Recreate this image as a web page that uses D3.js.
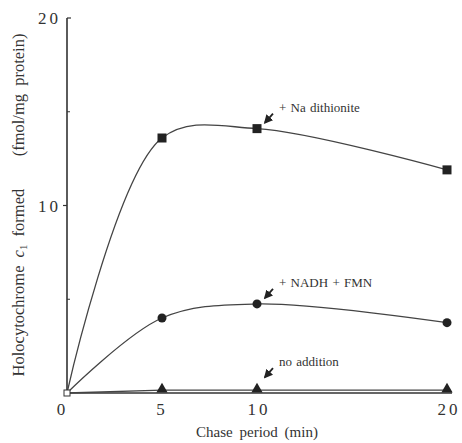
<!DOCTYPE html>
<html lang="en">
<head>
<meta charset="UTF-8">
<script src="https://d3js.org/d3.v7.min.js"></script>
<style>
  body { margin: 0; background: #fff; }
  text { font-family: "Liberation Serif", "DejaVu Serif", serif; fill: #333; }
</style>
</head>
<body>
<div id="chart_area"></div>
<script>
  // chase period (min)
  var times = [0, 5, 10, 20];
  // holocytochrome c1 formed (fmol/mg protein)
  var dithionite = [0, 13.6, 14.1, 11.9];
  var nadhFmn = [0, 4.0, 4.75, 3.75];
  var noAddition = [0, 0.15, 0.15, 0.15];
  var yTickLabels = ["0", "10", "20"];
  var xTickLabels = ["5", "10", "20"];

  var W = 462, H = 443;
  var svg = d3.select("#chart_area").append("svg")
    .attr("width", W).attr("height", H);

  var x = d3.scaleLinear().domain([0, 20]).range([67, 447]);
  var y = d3.scaleLinear().domain([0, 20]).range([393, 18]);

  // axes
  svg.append("line").attr("x1", x(0)).attr("x2", x(0))
    .attr("y1", y(0)).attr("y2", y(20))
    .attr("stroke", "#333").attr("stroke-width", 1.6);
  svg.append("line").attr("x1", x(0)).attr("x2", x(20) + 5)
    .attr("y1", y(0)).attr("y2", y(0))
    .attr("stroke", "#333").attr("stroke-width", 1.4);

  // y ticks
  svg.append("line").attr("x1", x(0)).attr("x2", x(0) + 4)
    .attr("y1", y(20)).attr("y2", y(20)).attr("stroke", "#333").attr("stroke-width", 1.2);
  svg.append("line").attr("x1", x(0) - 4).attr("x2", x(0))
    .attr("y1", y(10)).attr("y2", y(10)).attr("stroke", "#333").attr("stroke-width", 1.2);
  [5, 15].forEach(function(v) {
    svg.append("line").attr("x1", x(0)).attr("x2", x(0) + 3)
      .attr("y1", y(v)).attr("y2", y(v)).attr("stroke", "#333").attr("stroke-width", 1);
  });

  svg.selectAll(".ylab").data(yTickLabels.slice(1)).enter().append("text")
    .attr("x", x(0) - 6).attr("y", function(d) { return y(+d) + 6; })
    .attr("text-anchor", "end").attr("letter-spacing", 3)
    .style("font-size", "17px").text(function(d) { return d; });
  svg.append("text").attr("x", x(0) - 6).attr("y", y(0) + 22)
    .attr("text-anchor", "middle").style("font-size", "17px").text(yTickLabels[0]);

  svg.selectAll(".xlab").data(xTickLabels).enter().append("text")
    .attr("x", function(d) { return x(+d) + (d.length > 1 ? 2 : 0); })
    .attr("y", y(0) + 22)
    .attr("text-anchor", "middle").attr("letter-spacing", 3)
    .style("font-size", "17px").text(function(d) { return d; });

  // axis titles
  svg.append("text").attr("x", 257).attr("y", 437)
    .attr("text-anchor", "middle").attr("word-spacing", 3)
    .style("font-size", "15px").text("Chase period (min)");

  var yt = svg.append("text")
    .attr("transform", "translate(24," + 205 + ") rotate(-90)")
    .attr("text-anchor", "middle").attr("word-spacing", 4)
    .style("font-size", "16.5px");
  yt.append("tspan").text("Holocytochrome ");
  yt.append("tspan").style("font-style", "italic").text("c");
  yt.append("tspan").attr("dy", 3).style("font-size", "11px").text("1");
  yt.append("tspan").attr("dy", -3).text(" formed \u00a0\u00a0\u00a0(fmol/mg protein)");

  // curves
  function series(vals) {
    return times.map(function(t, i) { return [t, vals[i]]; });
  }
  var line = d3.line()
    .x(function(d) { return x(d[0]); })
    .y(function(d) { return y(d[1]); })
    .curve(d3.curveCatmullRom.alpha(0.5));
  var straight = d3.line()
    .x(function(d) { return x(d[0]); })
    .y(function(d) { return y(d[1]); });

  svg.append("path").datum(series(dithionite)).attr("d", line)
    .attr("fill", "none").attr("stroke", "#444").attr("stroke-width", 1.3);
  svg.append("path").datum(series(nadhFmn)).attr("d", line)
    .attr("fill", "none").attr("stroke", "#444").attr("stroke-width", 1.3);
  svg.append("path").datum(series(noAddition)).attr("d", straight)
    .attr("fill", "none").attr("stroke", "#444").attr("stroke-width", 1.3);

  // markers
  svg.selectAll(".sq").data(series(dithionite).slice(1)).enter().append("rect")
    .attr("x", function(d) { return x(d[0]) - 4.5; })
    .attr("y", function(d) { return y(d[1]) - 4.5; })
    .attr("width", 9).attr("height", 9).attr("fill", "#222");
  svg.selectAll(".ci").data(series(nadhFmn).slice(1)).enter().append("circle")
    .attr("cx", function(d) { return x(d[0]); })
    .attr("cy", function(d) { return y(d[1]); })
    .attr("r", 4.5).attr("fill", "#222");
  svg.selectAll(".tr").data(series(noAddition).slice(1)).enter().append("path")
    .attr("transform", function(d) { return "translate(" + x(d[0]) + "," + (y(d[1]) - 1) + ")"; })
    .attr("d", d3.symbol().type(d3.symbolTriangle).size(55))
    .attr("fill", "#222");
  svg.append("rect").attr("x", x(0) - 3).attr("y", y(0) - 3)
    .attr("width", 6).attr("height", 6)
    .attr("fill", "#fff").attr("stroke", "#333").attr("stroke-width", 1);

  // annotations
  var notes = [
    { t: 10, v: dithionite[2], label: "+  Na  dithionite" },
    { t: 10, v: nadhFmn[2], label: "+ NADH + FMN" },
    { t: 10, v: noAddition[2], label: "no  addition" }
  ];
  svg.append("defs").append("marker").attr("id", "ah")
    .attr("viewBox", "0 0 10 10").attr("refX", 8).attr("refY", 5)
    .attr("markerWidth", 5).attr("markerHeight", 5).attr("orient", "auto")
    .append("path").attr("d", "M0,0L10,5L0,10z").attr("fill", "#222");
  notes.forEach(function(n, i) {
    var px = x(n.t), py = y(n.v);
    var off = i === 2 ? 12 : 5;
    svg.append("line")
      .attr("x1", px + 16).attr("y1", py - off - 10)
      .attr("x2", px + 8).attr("y2", py - off - 1)
      .attr("stroke", "#222").attr("stroke-width", 1.8)
      .attr("marker-end", "url(#ah)");
    svg.append("text").attr("x", px + 22).attr("y", py - off - 12)
      .style("font-size", "13px").attr("word-spacing", 1).text(n.label);
  });
</script>
</body>
</html>
